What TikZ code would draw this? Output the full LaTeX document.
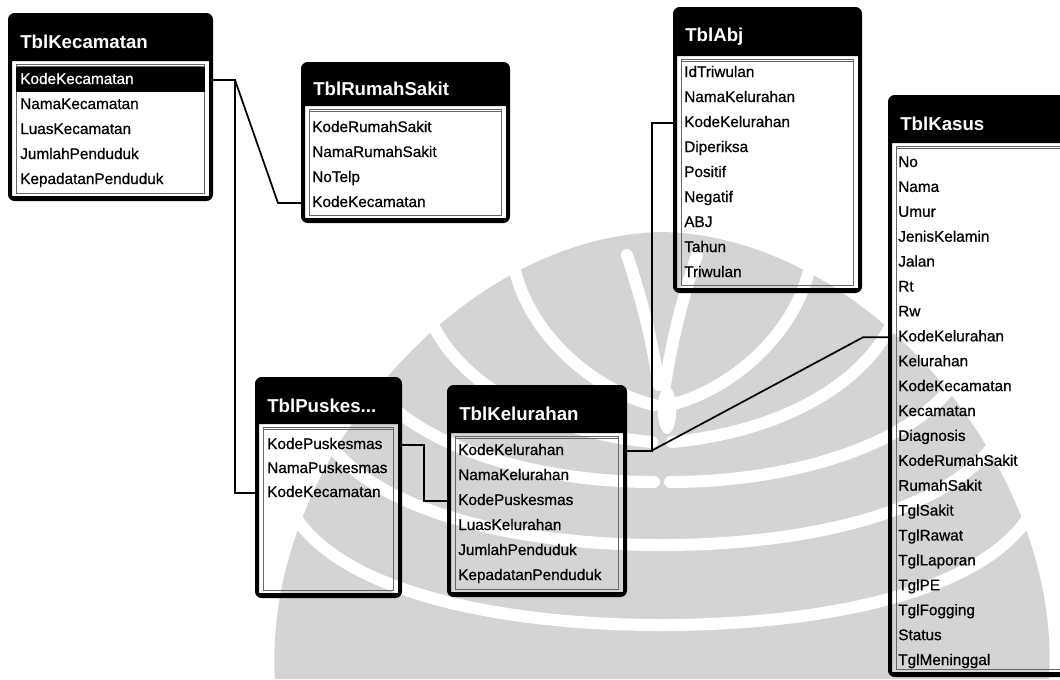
\documentclass[tikz,border=0pt]{standalone}
\usepackage{fontspec}
\setmainfont{Liberation Sans}
\newfontfamily\fldfont[FakeBold=0.7]{Liberation Sans}
\usetikzlibrary{calc}

% table frame: name, left, top, right, title bottom, bottom, title
\newcommand\tblframe[7]{%
  \node[tbl, minimum width={(#4-#2)*0.75pt}, minimum height={(#6-#3)*0.75pt}] (#1) at (#2,#3) {};
  \fill[black, even odd rule] [rounded corners=5] (#2,#3) rectangle (#4,#6)
        [sharp corners] (#2+4,#5) rectangle (#4-4,#6-5);
  \draw[black!60, line width=0.6pt] (#2+8,#5+3) rectangle (#4-9,#6-8);
  \draw[black!60, line width=0.4pt] (#2+8,#5+5) -- (#4-9,#5+5);
  \node[ttl] (#1-t) at (#2+12,{(#3+#5)/2+5}) {#7};
}
% field rows: name, x, first y, row step, list, colour of the first row
\newcommand\tblfields[6]{%
  \foreach \f [count=\i] in {#5} {%
    \ifnum\i=1 \def\rowcol{#6}\else\def\rowcol{black}\fi
    \node[fld, text=\rowcol] (#1-\i) at (#2,{#3+(\i-1)*#4}) {\f};
  }%
}

\begin{document}
\begin{tikzpicture}[x=0.75pt,y=-0.75pt,
  fld/.style={anchor=west, inner sep=0pt, font=\fldfont\fontsize{11.5}{12}\selectfont,
              text height=8pt, text depth=2pt},
  ttl/.style={anchor=west, inner sep=0pt, text=white,
              font=\bfseries\fontsize{14}{16}\selectfont},
  rel/.style={draw=black, line width=1.3pt, line join=miter},
  tbl/.style={inner sep=0pt, outer sep=0pt, anchor=north west},
  emblem/.style={fill=black!17},
  band/.style={draw=white, line width=9pt, line cap=round},
  ]
\useasboundingbox (0,0) rectangle (1060,679);
\clip (0,0) rectangle (1060,679);
\fill[white] (0,0) rectangle (1060,679);

% faint emblem in the background: a bulb of nested curved leaves
\fill[emblem] (275,679) .. controls (262,470) and (455,236) .. (662,232)
   .. controls (869,236) and (1062,470) .. (1049,679) -- cycle;
\foreach \s in {1,-1} {
  \begin{scope}[shift={(662,0)}, xscale=\s]
    \draw[band] (3,385) .. controls (10,340) and (20,300) .. (35,255);
    \draw[band] (8,405) .. controls (70,390) and (140,330) .. (150,255);
    \draw[band] (10,442) .. controls (120,432) and (220,380) .. (240,295);
    \draw[band] (8,482) .. controls (150,482) and (290,432) .. (310,345);
    \draw[band] (0,545) .. controls (170,545) and (330,500) .. (350,405);
    \draw[band] (0,625) .. controls (190,625) and (370,580) .. (382,475);
  \end{scope}
}
\fill[white] (667,410) ellipse [x radius=7pt, y radius=18pt];

% tables
\tblframe{kec}{8}{13}{213}{61}{201}{TblKecamatan}
\fill[black] (16,67) rectangle (205,92);
\tblfields{kec}{20}{80}{25}{KodeKecamatan,NamaKecamatan,LuasKecamatan,JumlahPenduduk,KepadatanPenduduk}{white}

\tblframe{rs}{301}{62}{510}{106}{223}{TblRumahSakit}
\tblfields{rs}{312}{128}{25}{KodeRumahSakit,NamaRumahSakit,NoTelp,KodeKecamatan}{black}

\tblframe{abj}{673}{7}{862}{56}{293}{TblAbj}
\tblfields{abj}{684}{73}{25}{IdTriwulan,NamaKelurahan,KodeKelurahan,Diperiksa,Positif,Negatif,ABJ,Tahun,Triwulan}{black}

\tblframe{kas}{888}{95}{1075}{143}{677}{TblKasus}
\tblfields{kas}{898}{163}{24.9}{No,Nama,Umur,JenisKelamin,Jalan,Rt,Rw,KodeKelurahan,Kelurahan,KodeKecamatan,Kecamatan,Diagnosis,KodeRumahSakit,RumahSakit,TglSakit,TglRawat,TglLaporan,TglPE,TglFogging,Status,TglMeninggal}{black}

\tblframe{pus}{255}{377}{402}{424}{598}{TblPuskes...}
\tblfields{pus}{267}{445}{24}{KodePuskesmas,NamaPuskesmas,KodeKecamatan}{black}

\tblframe{kel}{447}{385}{627}{433}{597}{TblKelurahan}
\tblfields{kel}{458}{451}{25}{KodeKelurahan,NamaKelurahan,KodePuskesmas,LuasKelurahan,JumlahPenduduk,KepadatanPenduduk}{black}

% relationships
\draw[rel] (kec.east |- kec-1) -- ++(22,0) -- ($(rs.west |- rs-4)+(-23,0)$) -- (rs.west |- rs-4);
\draw[rel] (kec.east |- kec-1) -- ++(22,0) |- (pus.west |- pus-3);
\draw[rel] (pus.east |- pus-1) -- ++(22,0) |- (kel.west |- kel-3);
\draw[rel] (kel.east |- kel-1) -- ++(24,0) -- ($(kas.west |- kas-8)+(-25,0)$) -- (kas.west |- kas-8);
\draw[rel] (kel.east |- kel-1) -- ++(25,0) |- (abj.west |- abj-3);
\end{tikzpicture}
\end{document}
